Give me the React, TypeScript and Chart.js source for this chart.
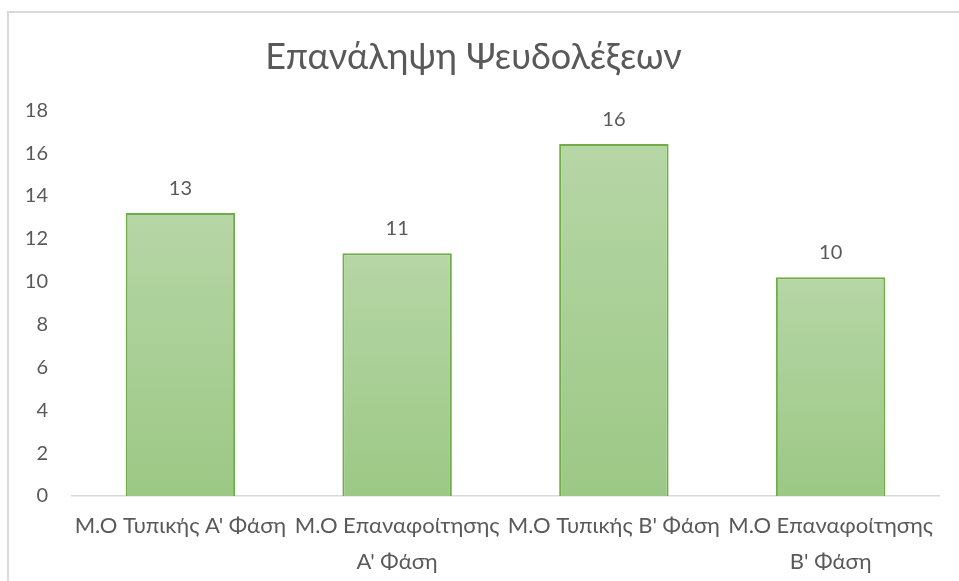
import React, { useEffect, useRef } from "react";
import { Chart, registerables } from "chart.js";

Chart.register(...registerables);

const title = "Επανάληψη Ψευδολέξεων";
const categories: (string | string[])[] = [
  "Μ.Ο Τυπικής Α' Φάση",
  ["Μ.Ο Επαναφοίτησης", "Α' Φάση"],
  "Μ.Ο Τυπικής Β' Φάση",
  ["Μ.Ο Επαναφοίτησης", "Β' Φάση"],
];
const values = [13.2, 11.33, 16.42, 10.21];
const yMin = 0;
const yMax = 18;
const yStep = 2;

const FONT = "Lato, 'Noto Sans', sans-serif";
const TEXT = "#595959";

export default function App() {
  const ref = useRef<HTMLCanvasElement | null>(null);

  useEffect(() => {
    if (!ref.current) return;
    const frame = {
      id: "frame",
      beforeDraw(chart: any) {
        const c = chart.ctx;
        c.save();
        c.strokeStyle = "#d9d9d9";
        c.lineWidth = 2;
        c.beginPath();
        c.moveTo(8, 600);
        c.lineTo(8, 12);
        c.lineTo(980, 12);
        c.stroke();
        c.restore();
      },
    };
    const labels = {
      id: "valueLabels",
      afterDatasetsDraw(chart: any) {
        const c = chart.ctx;
        const meta = chart.getDatasetMeta(0);
        c.save();
        c.fillStyle = TEXT;
        c.font = `20px ${FONT}`;
        c.textAlign = "center";
        c.textBaseline = "middle";
        meta.data.forEach((el: any, i: number) => {
          c.fillText(String(Math.round(values[i])), el.x, el.y - 25);
        });
        c.restore();
      },
    };
    const chart = new Chart(ref.current, {
      type: "bar",
      data: {
        labels: categories,
        datasets: [
          {
            data: values,
            backgroundColor: (ctx: any) => {
              const ch = ctx.chart;
              const ys = ch.scales?.y;
              if (!ys || typeof ctx.raw !== "number") return "#a9cf94";
              const top = ys.getPixelForValue(ctx.raw);
              const bot = ys.getPixelForValue(0);
              if (!isFinite(top) || !isFinite(bot) || top === bot) return "#a9cf94";
              const g = ch.ctx.createLinearGradient(0, top, 0, bot);
              g.addColorStop(0, "#b6d6a6");
              g.addColorStop(1, "#9cc885");
              return g;
            },
            borderColor: "#70ad47",
            borderWidth: 2,
            categoryPercentage: 1,
            barPercentage: 0.505,
          },
        ],
      },
      options: {
        animation: false,
        responsive: true,
        maintainAspectRatio: false,
        layout: { padding: { top: 11, left: 8, right: 20, bottom: 0 } },
        plugins: {
          legend: { display: false },
          tooltip: { enabled: false },
          title: {
            display: true,
            text: title,
            color: TEXT,
            font: { family: FONT, size: 36, weight: "normal", lineHeight: 1.2 },
            padding: { top: 25, bottom: 31 },
          },
        },
        scales: {
          x: {
            grid: { display: false, drawTicks: false },
            border: { display: true, color: "#d9d9d9", width: 1.5 },
            ticks: {
              color: TEXT,
              font: { family: FONT, size: 22, lineHeight: 1.64 },
              maxRotation: 0,
              autoSkip: false,
              padding: 12,
            },
            afterFit: (s: any) => {
              s.height = 85;
            },
          },
          y: {
            min: yMin,
            max: yMax,
            grid: { display: false, drawTicks: false },
            border: { display: false },
            ticks: {
              stepSize: yStep,
              color: TEXT,
              font: { family: FONT, size: 20 },
              padding: 24,
            },
            afterFit: (s: any) => {
              s.width = 64;
            },
          },
        },
      },
      plugins: [frame, labels],
    });
    return () => chart.destroy();
  }, []);

  return (
    <div style={{ position: "fixed", left: 0, top: 0, width: 959, height: 581, background: "#fff" }}>
      <canvas ref={ref} />
    </div>
  );
}
